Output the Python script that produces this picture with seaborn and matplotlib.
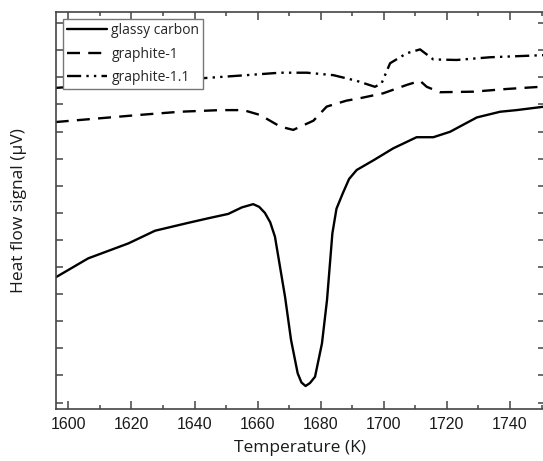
import numpy as np
import pandas as pd
import matplotlib
matplotlib.use("Agg")
import matplotlib.pyplot as plt
from matplotlib.ticker import MultipleLocator, NullFormatter
import seaborn as sns

# ---- data (temperature in K, heat flow signal in arbitrary µV units) ----
gc_T = [1596.0, 1606.3, 1619.0, 1627.5, 1638.0, 1644.4, 1650.7, 1655.0, 1658.6,
        1660.5, 1662.3, 1664.0, 1665.5, 1668.7, 1670.6, 1672.7, 1673.9, 1675.2,
        1676.6, 1678.2, 1680.4, 1682.0, 1683.7, 1685.0, 1687.0, 1689.0, 1691.4,
        1696.9, 1703.0, 1710.4, 1715.7, 1721.0, 1729.5, 1736.9, 1742.1, 1751.0]
gc_S = [4.62, 5.32, 5.87, 6.34, 6.63, 6.80, 6.96, 7.20, 7.32,
        7.22, 7.00, 6.65, 6.12, 3.90, 2.31, 1.08, 0.74, 0.61,
        0.72, 0.95, 2.18, 3.78, 6.24, 7.15, 7.72, 8.25, 8.58,
        8.95, 9.38, 9.79, 9.79, 9.99, 10.52, 10.73, 10.79, 10.92]

g1_T = [1596.0, 1622.3, 1635.4, 1648.1, 1655.5, 1660.8, 1667.2, 1671.3, 1677.7,
        1681.9, 1688.2, 1692.5, 1699.8, 1707.3, 1711.5, 1713.6, 1717.8, 1728.4,
        1739.0, 1751.0]
g1_S = [10.35, 10.61, 10.73, 10.79, 10.79, 10.61, 10.18, 10.06, 10.40,
        10.92, 11.14, 11.23, 11.41, 11.72, 11.87, 11.65, 11.45, 11.47,
        11.57, 11.66]

g11_T = [1596.0, 1641.7, 1656.5, 1667.1, 1675.6, 1684.0, 1691.4, 1697.2, 1699.3,
         1702.0, 1707.3, 1711.5, 1715.7, 1723.1, 1733.7, 1751.0]
g11_S = [11.61, 11.96, 12.08, 12.17, 12.17, 12.08, 11.87, 11.65, 11.78,
         12.52, 12.89, 13.03, 12.66, 12.64, 12.74, 12.82]

series_names = ["glassy carbon", "graphite-1", "graphite-1.1"]
x_ticks = [1600, 1620, 1640, 1660, 1680, 1700, 1720, 1740]

sns.set_theme(style="ticks")
plt.rcParams["font.family"] = ["Open Sans", "DejaVu Sans"]

fig = plt.figure(figsize=(5.43, 4.61), dpi=100)
ax = fig.add_axes([55.7 / 543, 52.5 / 461, 489.3 / 543, 396.5 / 461])

styles = ["-", (0, (5.5, 3.5)), (0, (6, 2.2, 1.0, 2.2, 1.0, 2.2))]
for name, T, S, ls in zip(series_names, [gc_T, g1_T, g11_T], [gc_S, g1_S, g11_S], styles):
    df = pd.DataFrame({"T": T, "S": S})
    sns.lineplot(data=df, x="T", y="S", ax=ax, color="black", linewidth=1.7,
                 linestyle=ls, label=name, sort=False, estimator=None)

ax.set_xlim(1596.0, 1751.1)
ax.set_ylim(-0.22, 14.41)
ax.set_xticks(x_ticks)
ax.xaxis.set_minor_locator(MultipleLocator(10))
ax.yaxis.set_major_locator(MultipleLocator(1))
ax.yaxis.set_major_formatter(NullFormatter())

spine_col = "#444444"
for s in ax.spines.values():
    s.set_color(spine_col)
    s.set_linewidth(1.2)

ax.tick_params(axis="x", which="major", direction="in", length=6, width=1.1,
               color=spine_col, top=True, bottom=True, labelsize=11.5, pad=6,
               labelcolor="#1a1a1a")
ax.tick_params(axis="x", which="minor", direction="in", length=3, width=1.1,
               color=spine_col, top=True, bottom=True)
ax.tick_params(axis="y", which="major", direction="in", length=5, width=1.1,
               color=spine_col, left=True, right=True)
for lab in ax.get_xticklabels():
    lab.set_fontfamily(["Liberation Sans", "DejaVu Sans"])

ax.set_xlabel("Temperature (K)", fontsize=12.5, color="#1a1a1a", labelpad=6)
ax.set_ylabel("Heat flow signal (µV)", fontsize=12.5, color="#1a1a1a", labelpad=17)

leg = ax.legend(loc="upper left", fontsize=10, frameon=True, fancybox=False,
                handlelength=2.9, handletextpad=0.3, labelspacing=0.62,
                borderpad=0.3, borderaxespad=0.5, edgecolor="#777777",
                framealpha=1.0)
leg.get_frame().set_linewidth(1.0)

fig.savefig("out.png", dpi=100)
